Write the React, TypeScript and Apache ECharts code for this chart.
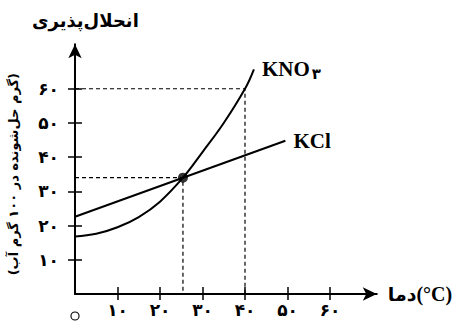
import React, { useEffect, useRef } from "react";
import * as echarts from "echarts";

const xLabelValues = [0, 10, 20, 30, 40, 50, 60];
const xTickLabels = ["۰", "۱۰", "۲۰", "۳۰", "۴۰", "۵۰", "۶۰"];
const xTickValues = [10, 20, 30, 40, 50, 60];
const yTickValues = [10, 20, 30, 40, 50, 60];
const yTickLabels = ["۱۰", "۲۰", "۳۰", "۴۰", "۵۰", "۶۰"];

const kno3Temps = [0, 5, 10, 15, 20, 25.4, 30, 35, 40, 42.1];
const kno3Sol = [16.8, 17.6, 19.5, 22.5, 27, 34, 41.5, 50, 60, 65.7];
const kclTemps = [0, 49.5];
const kclSol = [22.6, 44.8];
const intersection = [25.4, 34];
const kno3Guide = [40, 60];

const titleText = "انحلال‌پذیری";
const yName = "(گرم حل‌شونده در ۱۰۰ گرم آب)";
const xNameFa = "دما";
const xNameUnit = "(°C)";

export default function App() {
  const ref = useRef<HTMLDivElement>(null);
  useEffect(() => {
    const chart = echarts.init(ref.current!, null, { renderer: "svg" });
    const fa = "DejaVu Sans";
    const serif = "Liberation Serif";
    const xMap: Record<number, string> = {};
    xLabelValues.forEach((v, i) => (xMap[v] = xTickLabels[i]));
    const yMap: Record<number, string> = {};
    yTickValues.forEach((v, i) => (yMap[v] = yTickLabels[i]));
    const black = "#000";
    const dashed = { color: black, width: 1.2, type: [4, 3] as any };

    const xCommon = { type: "value", min: 0, max: 71, gridIndex: 0, position: "bottom" };
    const yCommon = { type: "value", min: 0, max: 73, gridIndex: 0, position: "left" };

    chart.setOption({
      animation: false,
      backgroundColor: "#fff",
      title: {
        text: titleText,
        left: 27,
        top: 6,
        textStyle: { fontFamily: fa, fontSize: 18, fontWeight: "bold", color: black },
      },
      grid: {
        left: 75,
        right: 82.25,
        top: 44.3,
        bottom: 31,
        containLabel: false,
        outerBoundsMode: "none",
      },
      xAxis: [
        {
          ...xCommon,
          name: `{a|${xNameFa}}{b|${xNameUnit}}`,
          nameLocation: "end",
          nameGap: 11,
          nameTextStyle: {
            verticalAlign: "middle",
            rich: {
              a: { fontFamily: fa, fontSize: 19, fontWeight: "bold", color: black },
              b: { fontFamily: serif, fontSize: 20, fontWeight: "bold", color: black },
            },
          },
          axisLine: { show: true, lineStyle: { color: black, width: 2 }, symbol: ["none", "arrow"], symbolSize: [10, 14] },
          axisTick: { show: true, length: 6, lineStyle: { color: black, width: 1.5 }, customValues: xTickValues },
          axisLabel: {
            show: true,
            margin: 7.5,
            color: black,
            fontFamily: fa,
            fontSize: 17,
            fontWeight: "bold",
            customValues: xLabelValues,
            formatter: (v: number) => (v === 0 ? `{o|${xMap[v]}}{sp| }` : xMap[v] ?? ""),
            rich: {
              o: {
                width: 7,
                height: 7,
                lineHeight: 7,
                align: "center",
                verticalAlign: "bottom",
                borderRadius: 4,
                borderWidth: 1.1,
                borderColor: black,
                backgroundColor: "#fff",
                fontSize: 5,
                color: "#fff",
                fontFamily: fa,
              },
              sp: { width: 0, height: 18, lineHeight: 18, fontSize: 5 },
            },
          },
          splitLine: { show: false },
        },
        {
          ...xCommon,
          axisLine: { show: false },
          axisTick: { show: true, inside: true, length: 7, lineStyle: { color: black, width: 1.5 }, customValues: xTickValues },
          axisLabel: { show: false },
          splitLine: { show: false },
        },
      ],
      yAxis: [
        {
          ...yCommon,
          name: yName,
          nameLocation: "middle",
          nameRotate: 90,
          nameGap: 55,
          nameTextStyle: { fontFamily: fa, fontSize: 13, fontWeight: "bold", color: black, padding: [0, 10, 0, 0] },
          axisLine: { show: true, lineStyle: { color: black, width: 2 }, symbol: ["none", "arrow"], symbolSize: [10, 14] },
          axisTick: { show: true, length: 7, lineStyle: { color: black, width: 1.5 }, customValues: yTickValues },
          axisLabel: {
            show: true,
            margin: 16,
            color: black,
            fontFamily: fa,
            fontSize: 17,
            fontWeight: "bold",
            customValues: yTickValues,
            formatter: (v: number) => yMap[v] ?? "",
          },
          splitLine: { show: false },
        },
        {
          ...yCommon,
          axisLine: { show: false },
          axisTick: { show: true, inside: true, length: 7, lineStyle: { color: black, width: 1.5 }, customValues: yTickValues },
          axisLabel: { show: false },
          splitLine: { show: false },
        },
      ],
      series: [
        {
          type: "line",
          xAxisIndex: 0,
          yAxisIndex: 0,
          data: [
            [0, kno3Guide[1]],
            [kno3Guide[0], kno3Guide[1]],
            [kno3Guide[0], 0],
          ],
          symbol: "none",
          lineStyle: dashed,
          silent: true,
        },
        {
          type: "line",
          xAxisIndex: 0,
          yAxisIndex: 0,
          data: [
            [0, intersection[1]],
            [intersection[0], intersection[1]],
            [intersection[0], 0],
          ],
          symbol: "none",
          lineStyle: dashed,
          silent: true,
        },
        {
          type: "line",
          name: "KNO3",
          xAxisIndex: 0,
          yAxisIndex: 0,
          data: kno3Temps.map((t, i) => [t, kno3Sol[i]]),
          smooth: 0.4,
          symbol: "none",
          lineStyle: { color: black, width: 2 },
          endLabel: {
            show: true,
            distance: 8,
            formatter: "{a|KNO}{b|۳}",
            rich: {
              a: { fontFamily: serif, fontSize: 21, fontWeight: "bold", color: black },
              b: { fontFamily: fa, fontSize: 15, fontWeight: "bold", color: black, padding: [9, 0, 0, 2] },
            },
          },
        },
        {
          type: "line",
          name: "KCl",
          xAxisIndex: 0,
          yAxisIndex: 0,
          data: kclTemps.map((t, i) => [t, kclSol[i]]),
          symbol: "none",
          lineStyle: { color: black, width: 2 },
          endLabel: {
            show: true,
            distance: 8,
            formatter: "KCl",
            fontFamily: serif,
            fontSize: 21,
            fontWeight: "bold",
            color: black,
          },
        },
        {
          type: "scatter",
          xAxisIndex: 0,
          yAxisIndex: 0,
          data: [intersection],
          symbol: "circle",
          symbolSize: 10,
          itemStyle: { color: black },
        },
      ],
    });
    return () => chart.dispose();
  }, []);
  return (
    <div
      ref={ref}
      style={{ position: "fixed", left: 0, top: 0, width: 459, height: 325, background: "#fff" }}
    />
  );
}
